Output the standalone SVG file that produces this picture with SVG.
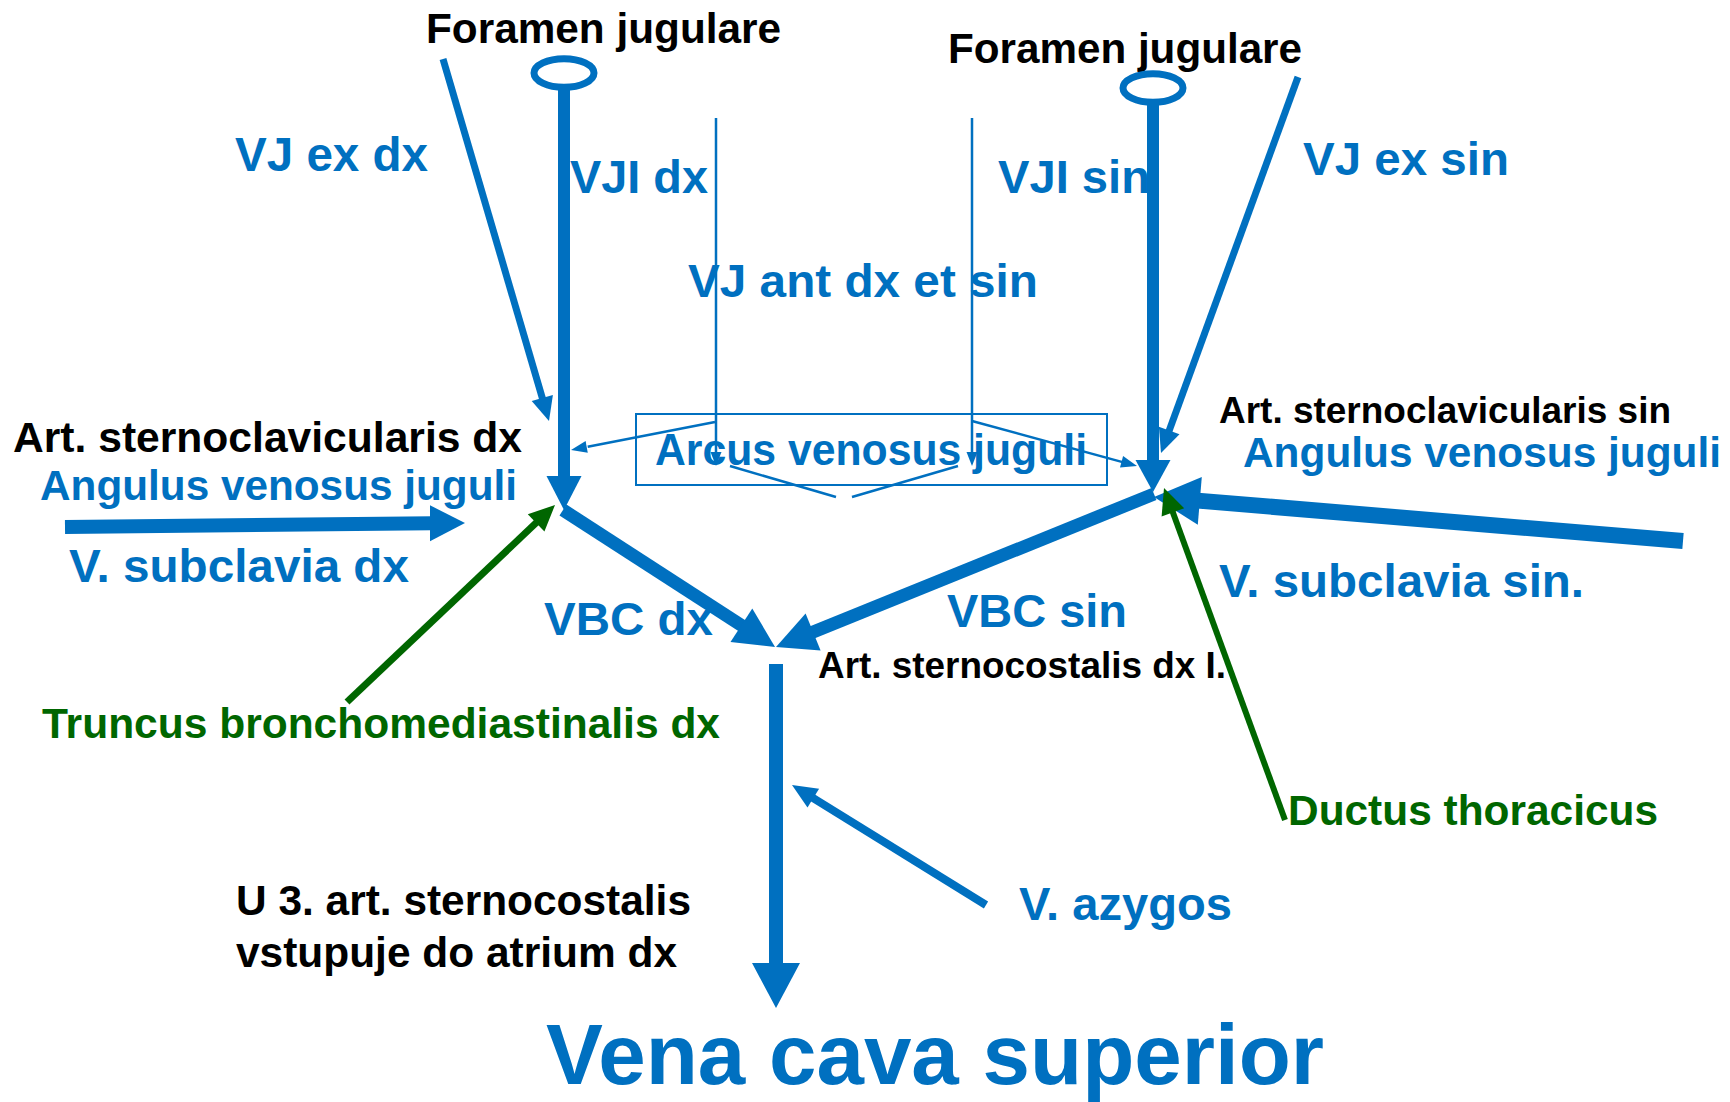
<svg xmlns="http://www.w3.org/2000/svg" width="1730" height="1102" viewBox="0 0 1730 1102">
<style>
  text { font-family: "Liberation Sans", Arial, sans-serif; font-weight: bold; }
  .b { fill: #0070C0; }
  .k { fill: #000000; }
  .g { fill: #006600; }
  .vein { stroke: #0070C0; fill: none; stroke-linecap: butt; }
  .lym { stroke: #006600; fill: none; stroke-linecap: butt; }
  .hb { fill: #0070C0; stroke: none; }
  .hg { fill: #006600; stroke: none; }
</style>
<rect width="1730" height="1102" fill="#ffffff"/>
<g id="labels">
  <g id="foramen-dx"><text class="k" x="426" y="43" font-size="42" textLength="355" lengthAdjust="spacingAndGlyphs">Foramen jugulare</text></g>
  <g id="foramen-sin"><text class="k" x="948" y="63" font-size="42" textLength="354" lengthAdjust="spacingAndGlyphs">Foramen jugulare</text></g>
  <g id="vjex-dx"><text class="b" x="235" y="171" font-size="48" textLength="193" lengthAdjust="spacingAndGlyphs">VJ ex dx</text></g>
  <g id="vji-dx"><text class="b" x="570" y="193" font-size="47" textLength="138" lengthAdjust="spacingAndGlyphs">VJI dx</text></g>
  <g id="vji-sin"><text class="b" x="998" y="193" font-size="47" textLength="152" lengthAdjust="spacingAndGlyphs">VJI sin</text></g>
  <g id="vjex-sin"><text class="b" x="1303" y="175" font-size="47" textLength="206" lengthAdjust="spacingAndGlyphs">VJ ex sin</text></g>
  <g id="vjant"><text class="b" x="688" y="297" font-size="47" textLength="350" lengthAdjust="spacingAndGlyphs">VJ ant dx et sin</text></g>
  <g id="arcus">
    <rect x="636" y="414" width="471" height="71" fill="none" stroke="#0070C0" stroke-width="2"/>
    <text class="b" x="655" y="465" font-size="44" textLength="432" lengthAdjust="spacingAndGlyphs">Arcus venosus juguli</text>
  </g>
  <g id="art-scl-dx"><text class="k" x="13" y="452" font-size="42" textLength="509" lengthAdjust="spacingAndGlyphs">Art. sternoclavicularis dx</text></g>
  <g id="angulus-dx"><text class="b" x="40" y="500" font-size="42" textLength="477" lengthAdjust="spacingAndGlyphs">Angulus venosus juguli</text></g>
  <g id="vsub-dx"><text class="b" x="69" y="582" font-size="47" textLength="340" lengthAdjust="spacingAndGlyphs">V. subclavia dx</text></g>
  <g id="truncus"><text class="g" x="42" y="738" font-size="42" textLength="678" lengthAdjust="spacingAndGlyphs">Truncus bronchomediastinalis dx</text></g>
  <g id="vbc-dx"><text class="b" x="544" y="635" font-size="47" textLength="169" lengthAdjust="spacingAndGlyphs">VBC dx</text></g>
  <g id="vbc-sin"><text class="b" x="947" y="627" font-size="47" textLength="180" lengthAdjust="spacingAndGlyphs">VBC sin</text></g>
  <g id="art-sc-dx"><text class="k" x="818" y="678" font-size="36" textLength="408" lengthAdjust="spacingAndGlyphs">Art. sternocostalis dx I.</text></g>
  <g id="art-scl-sin"><text class="k" x="1219" y="423" font-size="36" textLength="452" lengthAdjust="spacingAndGlyphs">Art. sternoclavicularis sin</text></g>
  <g id="angulus-sin"><text class="b" x="1243" y="467" font-size="42" textLength="478" lengthAdjust="spacingAndGlyphs">Angulus venosus juguli</text></g>
  <g id="vsub-sin"><text class="b" x="1219" y="597" font-size="47" textLength="365" lengthAdjust="spacingAndGlyphs">V. subclavia sin.</text></g>
  <g id="ductus"><text class="g" x="1288" y="825" font-size="42" textLength="370" lengthAdjust="spacingAndGlyphs">Ductus thoracicus</text></g>
  <g id="azygos"><text class="b" x="1019" y="920" font-size="46" textLength="213" lengthAdjust="spacingAndGlyphs">V. azygos</text></g>
  <g id="u3">
    <text class="k" x="236" y="915" font-size="42" textLength="455" lengthAdjust="spacingAndGlyphs">U 3. art. sternocostalis</text>
    <text class="k" x="236" y="967" font-size="42" textLength="441" lengthAdjust="spacingAndGlyphs">vstupuje do atrium dx</text>
  </g>
  <g id="vcs"><text class="b" x="546" y="1084" font-size="85" textLength="778" lengthAdjust="spacingAndGlyphs">Vena cava superior</text></g>
</g>
<g id="connectors">
  <!-- foramina -->
  <ellipse cx="564" cy="73" rx="30" ry="14.3" fill="none" stroke="#0070C0" stroke-width="7"/>
  <ellipse cx="1153" cy="88" rx="30" ry="14.3" fill="none" stroke="#0070C0" stroke-width="7"/>
  <!-- VJI dx -->
  <line class="vein" x1="564" y1="90" x2="564" y2="478" stroke-width="12"/>
  <polygon class="hb" points="564,510 546.5,476 581.5,476"/>
  <!-- VJI sin -->
  <line class="vein" x1="1153" y1="105" x2="1153" y2="462" stroke-width="12"/>
  <polygon class="hb" points="1153,492 1135.5,460 1170.5,460"/>
  <!-- VJ ex dx -->
  <line class="vein" x1="443" y1="59" x2="542.6" y2="399" stroke-width="7"/>
  <polygon class="hb" points="549,421 531.7,401.1 552.9,394.9"/>
  <!-- VJ ex sin -->
  <line class="vein" x1="1298" y1="77" x2="1168.9" y2="431.4" stroke-width="7"/>
  <polygon class="hb" points="1161,453 1158.9,426.7 1179.5,434.2"/>
  <!-- V subclavia dx -->
  <line class="vein" x1="65" y1="527" x2="432" y2="523.3" stroke-width="14"/>
  <polygon class="hb" points="465,523 430,505.3 430,541.3"/>
  <!-- V subclavia sin -->
  <line class="vein" x1="1683" y1="541" x2="1197.8" y2="500.6" stroke-width="16"/>
  <polygon class="hb" points="1154,497 1201.8,476.9 1197.8,524.7"/>
  <!-- VBC dx -->
  <line class="vein" x1="563" y1="510" x2="743" y2="626.4" stroke-width="13"/>
  <polygon class="hb" points="775,647 730.5,642.1 752.3,608.5"/>
  <!-- VBC sin -->
  <line class="vein" x1="1154" y1="494" x2="811.3" y2="632.8" stroke-width="13"/>
  <polygon class="hb" points="776,647 805.6,613.5 820.6,650.5"/>
  <!-- VCS -->
  <line class="vein" x1="776" y1="664" x2="776" y2="965" stroke-width="14"/>
  <polygon class="hb" points="776,1008 752,963 800,963"/>
  <!-- azygos -->
  <line class="vein" x1="986" y1="905" x2="811.6" y2="797.1" stroke-width="8"/>
  <polygon class="hb" points="792,785 819.1,788.8 807.5,807.6"/>
  <!-- truncus bronchomediastinalis -->
  <line class="lym" x1="347" y1="702" x2="537.5" y2="521.5" stroke-width="7"/>
  <polygon class="hg" points="555,505 544.4,531.6 527.8,514.2"/>
  <!-- ductus thoracicus -->
  <line class="lym" x1="1285" y1="820" x2="1172.2" y2="510.5" stroke-width="6"/>
  <polygon class="hg" points="1164,488 1184.2,508.3 1161.6,516.5"/>
  <!-- VJ ant -->
  <line class="vein" x1="716" y1="118" x2="716" y2="454" stroke-width="2.5"/>
  <polygon class="hb" points="716,466 710.5,452 721.5,452"/>
  <line class="vein" x1="972" y1="118" x2="972" y2="454" stroke-width="2.5"/>
  <polygon class="hb" points="972,466 966.5,452 977.5,452"/>
  <line class="vein" x1="715" y1="422" x2="587.7" y2="446.7" stroke-width="2.5"/>
  <polygon class="hb" points="571,450 585.6,441 587.8,452.8"/>
  <line class="vein" x1="972" y1="421" x2="1122.6" y2="462.1" stroke-width="2.5"/>
  <polygon class="hb" points="1137,466 1120,467.6 1123.1,456"/>
  <!-- arcus V lines -->
  <line class="vein" x1="730" y1="466" x2="836" y2="497" stroke-width="2.5"/>
  <line class="vein" x1="852" y1="497" x2="958" y2="466" stroke-width="2.5"/>
</g>
</svg>
